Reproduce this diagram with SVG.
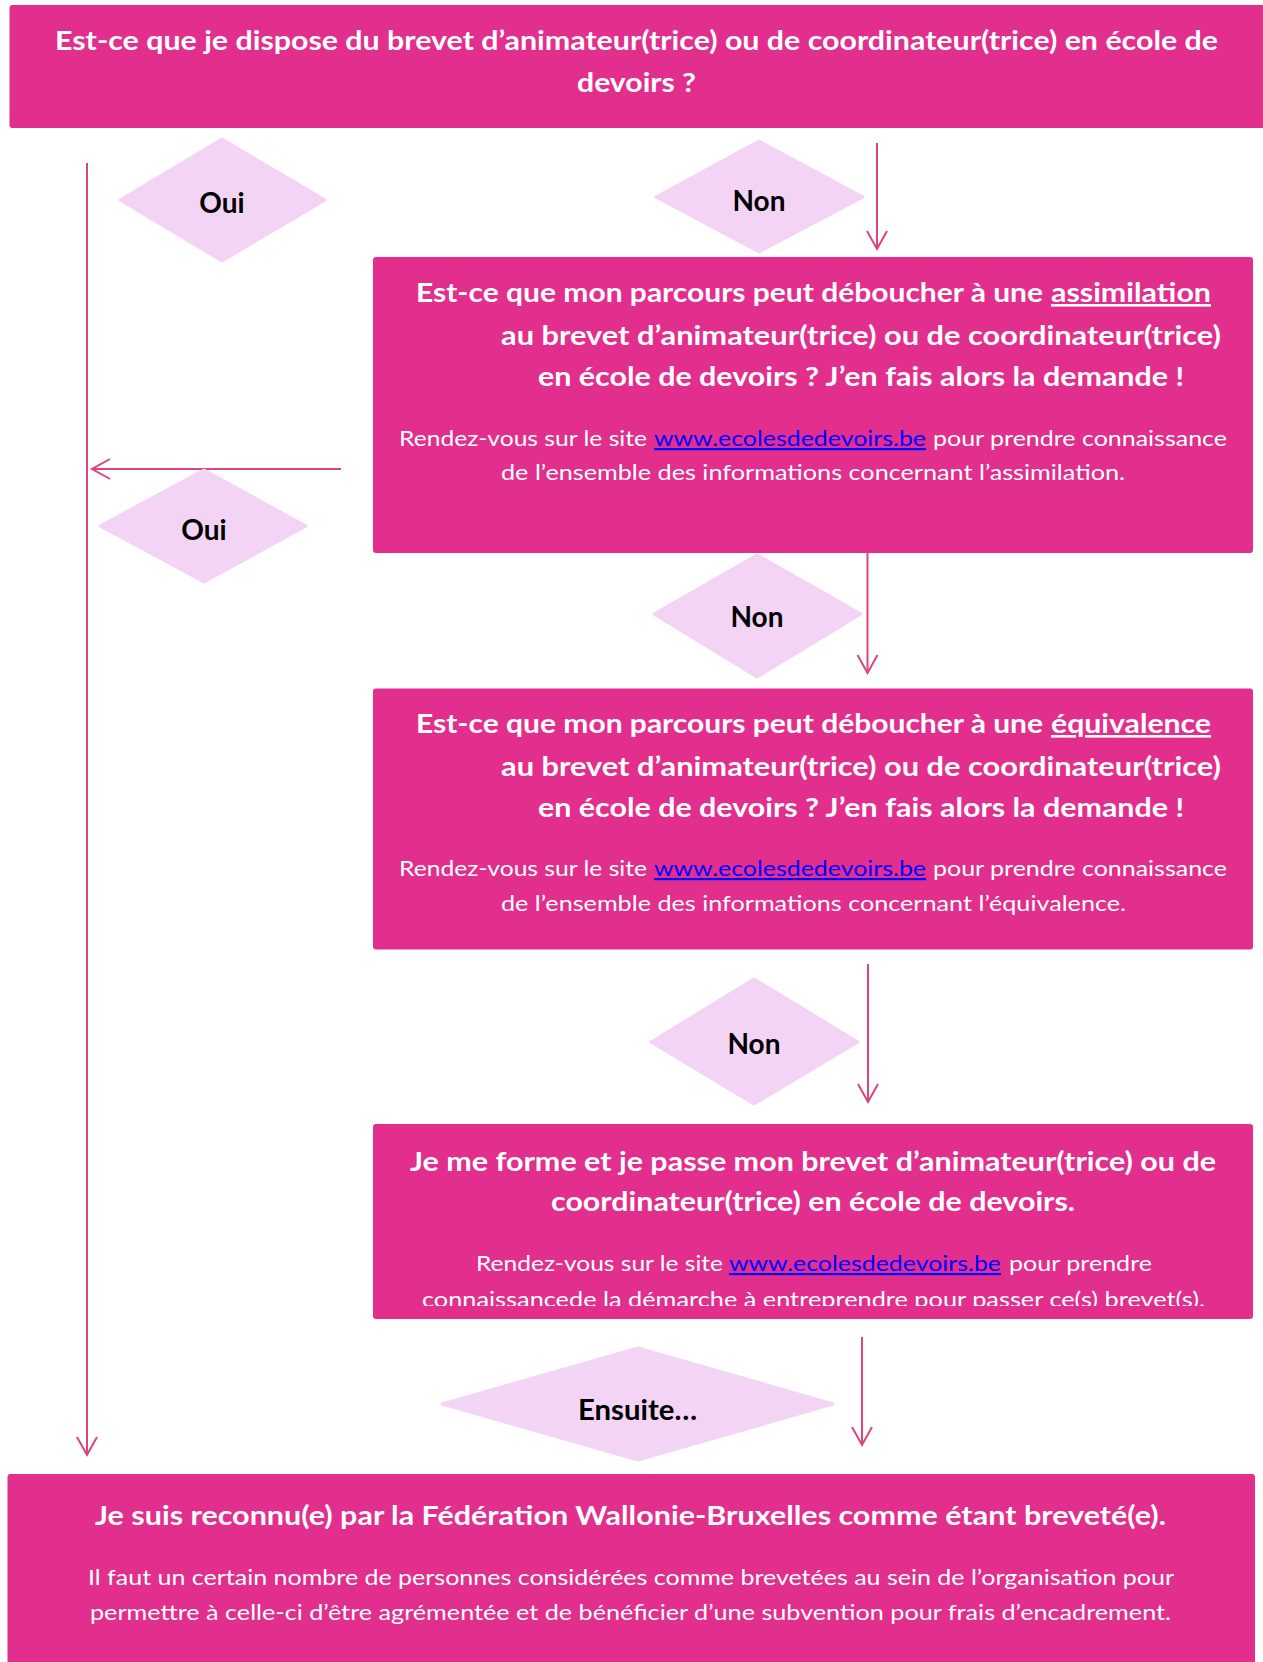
<svg xmlns="http://www.w3.org/2000/svg" width="1263" height="1662" viewBox="0 0 1263 1662">
<style>
.box{fill:#E22E8D}
.dia{fill:#F4D4F4;stroke:#F4D4F4;stroke-width:3;stroke-linejoin:round}
.h{font-family:Lato,"Open Sans","Liberation Sans",sans-serif;font-weight:700;font-size:26px;fill:#fff}
.b{font-family:Lato,"Open Sans","Liberation Sans",sans-serif;font-weight:400;font-size:22px;fill:#fff}
.u{text-decoration:underline}
.lnk{fill:#0000FF;text-decoration:underline}
.lbl{font-family:Lato,"Open Sans","Liberation Sans",sans-serif;font-weight:700;font-size:28px;fill:#000;text-anchor:middle}
.conn{stroke:#D9467C;stroke-width:2;fill:none}
</style>
<defs>
<marker id="arr" markerUnits="userSpaceOnUse" markerWidth="40" markerHeight="40" viewBox="-20 -20 40 40" refX="0" refY="0" orient="auto" overflow="visible">
<path d="M-18,-10 L0,0 L-18,10" fill="none" stroke="#D9467C" stroke-width="2"/>
</marker>
<clipPath id="clip4"><rect x="373" y="1124" width="880" height="182"/></clipPath>
</defs>

<g id="connectors">
<line class="conn" x1="877" y1="143" x2="877" y2="249" marker-end="url(#arr)"/>
<line class="conn" x1="341" y1="469" x2="92" y2="469" marker-end="url(#arr)"/>
<line class="conn" x1="87" y1="163" x2="87" y2="1455" marker-end="url(#arr)"/>
<line class="conn" x1="867.5" y1="553" x2="867.5" y2="673" marker-end="url(#arr)"/>
<line class="conn" x1="868" y1="964" x2="868" y2="1102" marker-end="url(#arr)"/>
<line class="conn" x1="862" y1="1337" x2="862" y2="1445" marker-end="url(#arr)"/>
</g>

<g id="q1">
<rect class="box" x="9.5" y="5" width="1260" height="123" rx="3"/>
<text class="h"><tspan x="55" y="50" textLength="1163" lengthAdjust="spacingAndGlyphs">Est-ce que je dispose du brevet d’animateur(trice) ou de coordinateur(trice) en école de</tspan><tspan x="577" y="92" textLength="119" lengthAdjust="spacingAndGlyphs">devoirs ?</tspan></text>
</g>

<g id="oui1">
<polygon class="dia" points="120,200 222,139 325,200 222,261"/>
<text class="lbl" x="222" y="213">Oui</text>
</g>

<g id="non1">
<polygon class="dia" points="656,197 759,141 863,197 759,252"/>
<text class="lbl" x="759" y="211">Non</text>
</g>

<g id="q2">
<rect class="box" x="373" y="257" width="880" height="296" rx="3"/>
<text class="h"><tspan x="416" y="302" textLength="627" lengthAdjust="spacingAndGlyphs">Est-ce que mon parcours peut déboucher à une</tspan> <tspan class="u" x="1051" y="302" textLength="160" lengthAdjust="spacingAndGlyphs">assimilation</tspan></text>
<text class="h" x="501" y="345" textLength="720" lengthAdjust="spacingAndGlyphs">au brevet d’animateur(trice) ou de coordinateur(trice)</text>
<text class="h" x="538" y="386" textLength="646" lengthAdjust="spacingAndGlyphs">en école de devoirs ? J’en fais alors la demande !</text>
<text class="b"><tspan x="399" y="446" textLength="248" lengthAdjust="spacingAndGlyphs">Rendez-vous sur le site</tspan> <tspan class="lnk" x="654" y="446" textLength="272" lengthAdjust="spacingAndGlyphs">www.ecolesdedevoirs.be</tspan> <tspan x="933" y="446" textLength="294" lengthAdjust="spacingAndGlyphs">pour prendre connaissance</tspan></text>
<text class="b" x="501" y="480" textLength="624" lengthAdjust="spacingAndGlyphs">de l’ensemble des informations concernant l’assimilation.</text>
</g>

<g id="oui2">
<polygon class="dia" points="100,526 204,470 306,526 204,582"/>
<text class="lbl" x="204" y="540">Oui</text>
</g>

<g id="non2">
<polygon class="dia" points="654,614 757,555 861,614 757,677"/>
<text class="lbl" x="757" y="627">Non</text>
</g>

<g id="q3">
<rect class="box" x="373" y="688.5" width="880" height="261" rx="3"/>
<text class="h"><tspan x="416" y="733" textLength="627" lengthAdjust="spacingAndGlyphs">Est-ce que mon parcours peut déboucher à une</tspan> <tspan class="u" x="1051" y="733" textLength="160" lengthAdjust="spacingAndGlyphs">équivalence</tspan></text>
<text class="h" x="501" y="776" textLength="720" lengthAdjust="spacingAndGlyphs">au brevet d’animateur(trice) ou de coordinateur(trice)</text>
<text class="h" x="538" y="817" textLength="646" lengthAdjust="spacingAndGlyphs">en école de devoirs ? J’en fais alors la demande !</text>
<text class="b"><tspan x="399" y="876" textLength="248" lengthAdjust="spacingAndGlyphs">Rendez-vous sur le site</tspan> <tspan class="lnk" x="654" y="876" textLength="272" lengthAdjust="spacingAndGlyphs">www.ecolesdedevoirs.be</tspan> <tspan x="933" y="876" textLength="294" lengthAdjust="spacingAndGlyphs">pour prendre connaissance</tspan></text>
<text class="b" x="501" y="911" textLength="625" lengthAdjust="spacingAndGlyphs">de l’ensemble des informations concernant l’équivalence.</text>
</g>

<g id="non3">
<polygon class="dia" points="651,1042 754,979 858,1042 754,1104"/>
<text class="lbl" x="754" y="1054">Non</text>
</g>

<g id="formation">
<rect class="box" x="373" y="1124" width="880" height="195" rx="3"/>
<text class="h" x="410" y="1171" textLength="806" lengthAdjust="spacingAndGlyphs">Je me forme et je passe mon brevet d’animateur(trice) ou de</text>
<text class="h" x="551" y="1211" textLength="524" lengthAdjust="spacingAndGlyphs">coordinateur(trice) en école de devoirs.</text>
<text class="b"><tspan x="476" y="1271" textLength="247" lengthAdjust="spacingAndGlyphs">Rendez-vous sur le site</tspan> <tspan class="lnk" x="729" y="1271" textLength="272" lengthAdjust="spacingAndGlyphs">www.ecolesdedevoirs.be</tspan> <tspan x="1009" y="1271" textLength="143" lengthAdjust="spacingAndGlyphs">pour prendre</tspan></text>
<text class="b" x="422" y="1307" textLength="783" lengthAdjust="spacingAndGlyphs" clip-path="url(#clip4)">connaissancede la démarche à entreprendre pour passer ce(s) brevet(s).</text>
</g>

<g id="ensuite">
<polygon class="dia" points="442,1404 638,1348 833,1404 638,1460"/>
<text class="lbl" x="578" y="1420" text-anchor="start" style="text-anchor:start" textLength="119" lengthAdjust="spacingAndGlyphs">Ensuite…</text>
</g>

<g id="reconnu">
<rect class="box" x="7.5" y="1474" width="1247.5" height="200" rx="3"/>
<text class="h" x="95" y="1525" textLength="1071" lengthAdjust="spacingAndGlyphs">Je suis reconnu(e) par la Fédération Wallonie-Bruxelles comme étant breveté(e).</text>
<text class="b" x="88" y="1585" textLength="1086" lengthAdjust="spacingAndGlyphs">Il faut un certain nombre de personnes considérées comme brevetées au sein de l’organisation pour</text>
<text class="b" x="90" y="1620" textLength="1081" lengthAdjust="spacingAndGlyphs">permettre à celle-ci d’être agrémentée et de bénéficier d’une subvention pour frais d’encadrement.</text>
</g>
</svg>
